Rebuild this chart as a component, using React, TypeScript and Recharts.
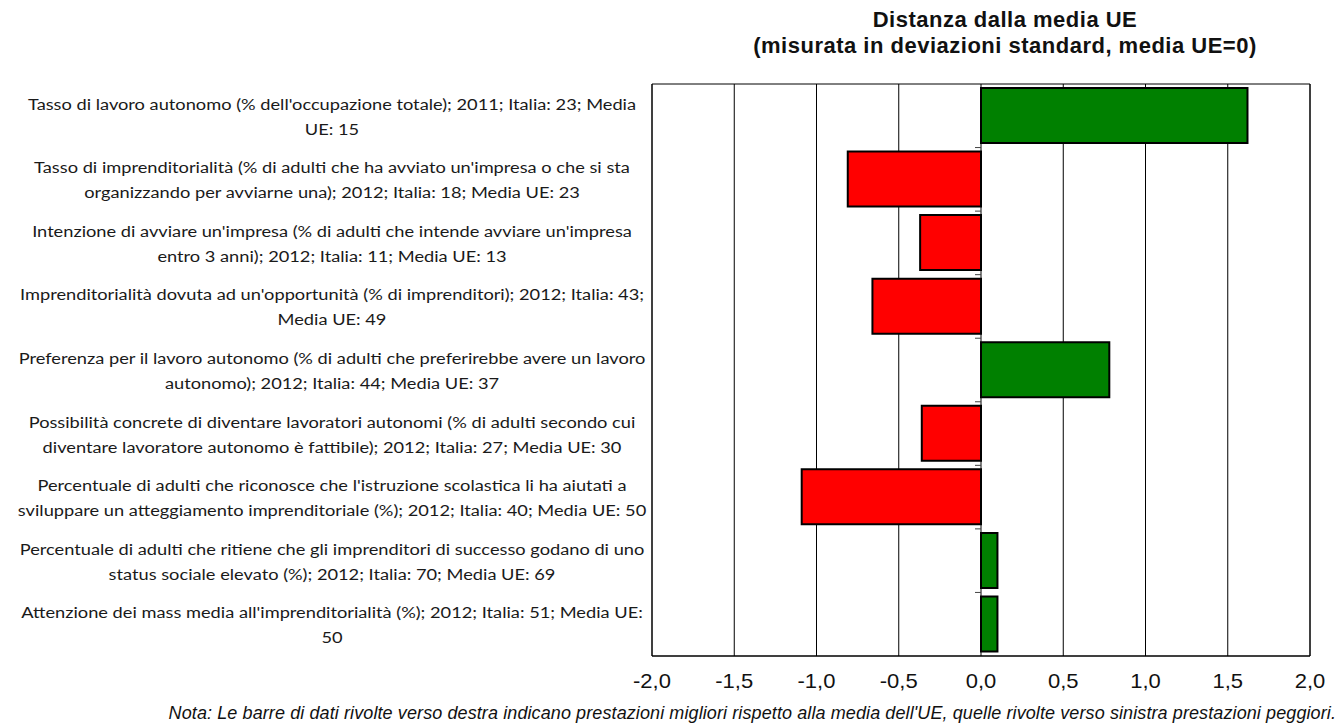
import React from 'react';
import {
  BarChart,
  Bar,
  XAxis,
  YAxis,
  CartesianGrid,
  ReferenceArea,
  ReferenceLine,
  Cell,
} from 'recharts';

// Indicatori (righe spezzate come nelle etichette dell'asse)
const indicators: string[] = [
  "Tasso di lavoro autonomo (% dell'occupazione totale); 2011; Italia: 23; Media\nUE: 15",
  "Tasso di imprenditorialità (% di adulti che ha avviato un'impresa o che si sta\norganizzando per avviarne una); 2012; Italia: 18; Media UE: 23",
  "Intenzione di avviare un'impresa (% di adulti che intende avviare un'impresa\nentro 3 anni); 2012; Italia: 11; Media UE: 13",
  "Imprenditorialità dovuta ad un'opportunità (% di imprenditori); 2012; Italia: 43;\nMedia UE: 49",
  "Preferenza per il lavoro autonomo (% di adulti che preferirebbe avere un lavoro\nautonomo); 2012; Italia: 44; Media UE: 37",
  "Possibilità concrete di diventare lavoratori autonomi (% di adulti secondo cui\ndiventare lavoratore autonomo è fattibile); 2012; Italia: 27; Media UE: 30",
  "Percentuale di adulti che riconosce che l'istruzione scolastica li ha aiutati a\nsviluppare un atteggiamento imprenditoriale (%); 2012; Italia: 40; Media UE: 50",
  "Percentuale di adulti che ritiene che gli imprenditori di successo godano di uno\nstatus sociale elevato (%); 2012; Italia: 70; Media UE: 69",
  "Attenzione dei mass media all'imprenditorialità (%); 2012; Italia: 51; Media UE:\n50",
];

// Distanza dalla media UE in deviazioni standard
const distances: number[] = [1.62, -0.81, -0.37, -0.66, 0.78, -0.36, -1.09, 0.1, 0.1];

const xTicks: number[] = [-2, -1.5, -1, -0.5, 0, 0.5, 1, 1.5, 2];

const data = indicators.map((name, i) => ({ name, value: distances[i] }));

const labelFont = 'Lato, "Liberation Sans", Arial, sans-serif';
const axisFont = '"Liberation Sans", Arial, sans-serif';

const CategoryTick = (props: any) => {
  const { x, y, payload } = props;
  const lines: string[] = String(payload.value).split('\n');
  const lineH = 25;
  const cx = x - 312;
  const startY = -((lines.length - 1) * lineH) / 2;
  return (
    <g transform={`translate(${cx},${y})`}>
      <text
        transform="scale(1.14,1)"
        textAnchor="middle"
        dominantBaseline="central"
        fontFamily={labelFont}
        fontSize={16}
        fill="#1a1a1a"
      >
        {lines.map((l, i) => (
          <tspan key={i} x={0} y={startY + i * lineH}>
            {l}
          </tspan>
        ))}
      </text>
    </g>
  );
};

const fmt = (v: number) => v.toFixed(1).replace('.', ',');

const ValueTick = (props: any) => {
  const { x, y, payload } = props;
  return (
    <g transform={`translate(${x},${y})`}>
      <text
        transform="scale(1.1,1)"
        textAnchor="middle"
        dy="0.71em"
        fontFamily={axisFont}
        fontSize={20}
        fill="#111"
      >
        {fmt(payload.value)}
      </text>
    </g>
  );
};

// piccoli segni sull'asse dello zero, ai confini tra le categorie
const ZeroTicks = (props: any) => {
  const { x1, y1, y2 } = props;
  const top = Math.min(y1, y2);
  const bottom = Math.max(y1, y2);
  const step = (bottom - top) / indicators.length;
  const marks = [];
  for (let i = 1; i < indicators.length; i++) {
    const yy = top + i * step;
    marks.push(<line key={i} x1={x1 - 6} x2={x1} y1={yy} y2={yy} stroke="#444" strokeWidth={1} />);
  }
  return <g>{marks}</g>;
};

export default function App() {
  return (
    <div style={{ position: 'absolute', left: 0, top: 0, width: 1344, height: 727, background: '#fff' }}>
      <div
        style={{
          position: 'absolute',
          left: 705,
          width: 600,
          top: 7,
          textAlign: 'center',
          fontFamily: axisFont,
          fontWeight: 'bold',
          fontSize: 22,
          lineHeight: '26px',
          letterSpacing: '0.5px',
          color: '#111',
        }}
      >
        Distanza dalla media UE
        <br />
        (misurata in deviazioni standard, media UE=0)
      </div>
      <BarChart
        width={1344}
        height={727}
        data={data}
        layout="vertical"
        margin={{ top: 84, right: 34, left: 0, bottom: 31 }}
        barSize={55}
      >
        <CartesianGrid horizontal={false} vertical stroke="#000" strokeWidth={1} />
        <XAxis
          type="number"
          domain={[-2, 2]}
          ticks={xTicks}
          axisLine={{ stroke: '#000' }}
          tickLine={false}
          tickSize={6}
          tickMargin={12}
          height={40}
          tick={<ValueTick />}
          interval={0}
        />
        <YAxis
          type="category"
          dataKey="name"
          width={652}
          axisLine={false}
          tickLine={false}
          tick={<CategoryTick />}
          interval={0}
        />
        <ReferenceArea x1={-2} x2={2} fill="none" stroke="#000" strokeWidth={1} ifOverflow="visible" />
        <ReferenceLine x={0} stroke="none" shape={<ZeroTicks />} />
        <Bar dataKey="value" stroke="#000" strokeWidth={2} isAnimationActive={false}>
          {data.map((d, i) => (
            <Cell key={`c-${i}`} fill={d.value >= 0 ? '#008000' : '#ff0000'} />
          ))}
        </Bar>
      </BarChart>
      <div
        style={{
          position: 'absolute',
          right: 8,
          top: 703,
          fontFamily: axisFont,
          fontStyle: 'italic',
          fontSize: 18,
          color: '#111',
          whiteSpace: 'nowrap',
          letterSpacing: '0.1px',
        }}
      >
        Nota: Le barre di dati rivolte verso destra indicano prestazioni migliori rispetto alla media dell'UE, quelle
        rivolte verso sinistra prestazioni peggiori.
      </div>
    </div>
  );
}
